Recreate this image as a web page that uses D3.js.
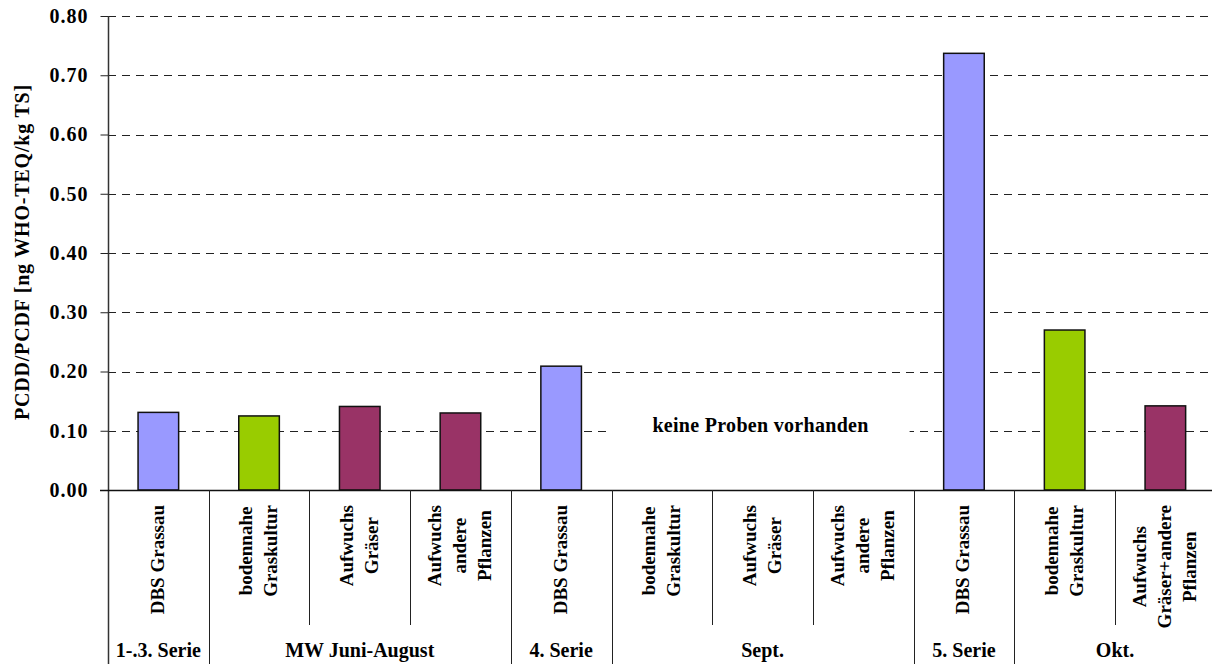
<!DOCTYPE html>
<html>
<head>
<meta charset="utf-8">
<script src="https://cdn.jsdelivr.net/npm/d3@7"></script>
<style>
  html, body { margin: 0; padding: 0; background: #fff; }
  svg { display: block; }
  text { font-family: "Liberation Serif", "Times New Roman", serif; font-weight: bold; fill: #000; }
</style>
</head>
<body>
<svg id="chart" width="1212" height="664"></svg>
<script>
// ---- data ----
const categories = [
  ["DBS Grassau"],
  ["bodennahe", "Graskultur"],
  ["Aufwuchs", "Gräser"],
  ["Aufwuchs", "andere", "Pflanzen"],
  ["DBS Grassau"],
  ["bodennahe", "Graskultur"],
  ["Aufwuchs", "Gräser"],
  ["Aufwuchs", "andere", "Pflanzen"],
  ["DBS Grassau"],
  ["bodennahe", "Graskultur"],
  ["Aufwuchs", "Gräser+andere", "Pflanzen"]
];
const sampleTypes = ["DBS", "boden", "aufwuchs", "aufwuchs", "DBS", "boden", "aufwuchs", "aufwuchs", "DBS", "boden", "aufwuchs"];
const values = [0.131, 0.125, 0.141, 0.130, 0.209, null, null, null, 0.737, 0.270, 0.142];
const groupLabels = ["1-.3. Serie", "MW Juni-August", "4. Serie", "Sept.", "5. Serie", "Okt."];
const groupStarts = [0, 1, 4, 5, 8, 9];
const groupEnds = [0, 3, 4, 7, 8, 10];
const yTicks = [0, 0.1, 0.2, 0.3, 0.4, 0.5, 0.6, 0.7, 0.8];
const yTitle = "PCDD/PCDF [ng WHO-TEQ/kg TS]";
const noDataNote = "keine Proben vorhanden";
const typeColors = { DBS: "#9999FF", boden: "#99CC00", aufwuchs: "#993366" };

// ---- layout ----
const svg = d3.select("#chart");
const pLeft = 108, pRight = 1215.7, pTop = 16, pBottom = 490;

const x = d3.scaleBand().domain(d3.range(categories.length)).range([pLeft, pRight]).padding(0);
const y = d3.scaleLinear().domain([0, 0.8]).range([pBottom, pTop]);

// gridlines
svg.append("g").selectAll("line").data(yTicks.filter(d => d > 0)).join("line")
  .attr("x1", pLeft).attr("x2", 1209)
  .attr("y1", d => Math.round(y(d)) + 0.5).attr("y2", d => Math.round(y(d)) + 0.5)
  .attr("stroke", "#222").attr("stroke-width", 1)
  .attr("stroke-dasharray", "8,6");

// y axis
const yAxis = d3.axisLeft(y).tickValues(yTicks).tickFormat(d3.format(".2f")).tickSize(8).tickPadding(12);
const gy = svg.append("g").attr("transform", `translate(${pLeft + 0.5},0)`).call(yAxis);
gy.select(".domain").remove();
gy.selectAll(".tick line").attr("stroke", "#222");
gy.selectAll(".tick text").style("font-size", "20px").style("letter-spacing", "1px")
  .attr("font-family", null).attr("fill", "#000");
svg.append("line").attr("x1", pLeft + 0.5).attr("x2", pLeft + 0.5).attr("y1", pTop).attr("y2", 664)
  .attr("stroke", "#333").attr("stroke-width", 1.5);

// white box behind note
const nx0 = x(groupStarts[3]), nx1 = x(groupEnds[3]) + x.bandwidth();
svg.append("rect").attr("x", nx0 - 4).attr("y", 414).attr("width", nx1 - nx0).attr("height", 24).attr("fill", "#fff");
svg.append("text").attr("x", (nx0 + nx1) / 2 - 2).attr("y", 432)
  .attr("text-anchor", "middle").style("font-size", "20px").style("letter-spacing", "0.3px")
  .text(noDataNote);

// bars
const bw = x.bandwidth() * 0.403;
svg.append("g").selectAll("rect").data(values.map((v, i) => ({ v, i })).filter(d => d.v !== null)).join("rect")
  .attr("x", d => x(d.i) + (x.bandwidth() - bw) / 2)
  .attr("y", d => y(d.v))
  .attr("width", bw)
  .attr("height", d => y(0) - y(d.v))
  .attr("fill", d => typeColors[sampleTypes[d.i]])
  .attr("stroke", "#111").attr("stroke-width", 1.5);

// x axis line
svg.append("line").attr("x1", pLeft - 8).attr("x2", 1212).attr("y1", pBottom + 0.5).attr("y2", pBottom + 0.5)
  .attr("stroke", "#111").attr("stroke-width", 1.5);

// separators
const groupBoundaryIdx = new Set(groupStarts.concat([categories.length]));
d3.range(1, categories.length + 1).forEach(i => {
  const xx = Math.round(i < categories.length ? x(i) : pRight) + 0.5;
  const full = groupBoundaryIdx.has(i);
  svg.append("line").attr("x1", xx).attr("x2", xx).attr("y1", pBottom).attr("y2", full ? 664 : 625)
    .attr("stroke", "#222").attr("stroke-width", 1);
});

// category labels (rotated)
const lineGap = 25;
categories.forEach((lines, i) => {
  const cx = x(i) + x.bandwidth() / 2;
  const g = svg.append("g");
  const texts = lines.map((ln, j) => {
    const bx = cx + (j - (lines.length - 1) / 2) * lineGap + 5.5;
    return g.append("text").attr("text-anchor", "middle").style("font-size", "19px")
      .attr("data-bx", bx).text(ln);
  });
  const maxLen = d3.max(texts, t => t.node().getComputedTextLength());
  const yc = 505 + maxLen / 2;
  texts.forEach(t => t.attr("transform", `translate(${t.attr("data-bx")},${yc}) rotate(-90)`));
});

// group labels
groupLabels.forEach((lab, k) => {
  const x0 = x(groupStarts[k]), x1 = x(groupEnds[k]) + x.bandwidth();
  svg.append("text").attr("x", (x0 + x1) / 2).attr("y", 657)
    .attr("text-anchor", "middle").style("font-size", "20px").text(lab);
});

// y title
svg.append("text").attr("transform", `translate(29,252) rotate(-90)`)
  .attr("text-anchor", "middle").style("font-size", "20px").style("letter-spacing", "0.8px").text(yTitle);
</script>
</body>
</html>
